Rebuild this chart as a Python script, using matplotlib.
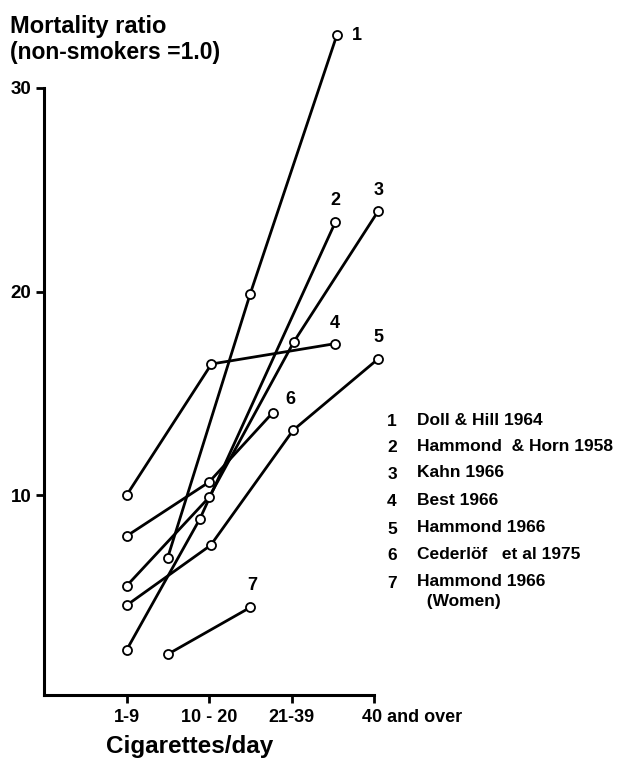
import matplotlib
matplotlib.use("Agg")
import matplotlib.pyplot as plt
import matplotlib.transforms as mtransforms

plt.rcParams['font.family'] = ['Liberation Sans', 'DejaVu Sans']
plt.rcParams['font.weight'] = 'bold'

# cigarette-consumption classes on the x axis
categories = ['1-9', '10 - 20', '21-39', '40 and over']
cat_pos = [1, 2, 3, 4]

# mortality ratio by study (non-smokers = 1.0)
doll_hill_x = [1.5, 2.5, 3.55]
doll_hill_y = [6.95, 19.9, 32.6]
hammond_horn_x = [1.0, 1.89, 3.53]
hammond_horn_y = [2.4, 8.85, 23.4]
kahn_x = [1.0, 2.0, 3.03, 4.05]
kahn_y = [5.55, 9.9, 17.55, 23.95]
best_x = [1.0, 2.03, 3.53]
best_y = [10.0, 16.45, 17.45]
hammond_x = [1.0, 2.02, 3.02, 4.05]
hammond_y = [4.6, 7.55, 13.2, 16.7]
cederlof_x = [1.0, 2.0, 2.77]
cederlof_y = [8.0, 10.65, 14.05]
hammond_w_x = [1.5, 2.5]
hammond_w_y = [2.2, 4.5]

series = [
    ('1', doll_hill_x, doll_hill_y, (20, 0)),
    ('2', hammond_horn_x, hammond_horn_y, (0, 22)),
    ('3', kahn_x, kahn_y, (0, 21)),
    ('4', best_x, best_y, (0, 20)),
    ('5', hammond_x, hammond_y, (0, 21)),
    ('6', cederlof_x, cederlof_y, (18, 13)),
    ('7', hammond_w_x, hammond_w_y, (2, 22)),
]

legend_nums = ['1', '2', '3', '4', '5', '6', '7']
legend_names = ['Doll & Hill 1964', 'Hammond  & Horn 1958', 'Kahn 1966',
                'Best 1966', 'Hammond 1966', 'Cederlöf   et al 1975',
                'Hammond 1966\n  (Women)']

W, H = 622, 758
fig = plt.figure(figsize=(W / 100, H / 100), dpi=100)
ax = fig.add_axes([44 / W, 1 - 695 / H, 330 / W, 607 / H])

for num, xs, ys, off in series:
    ax.plot(xs, ys, color='black', lw=2.0, marker='o', ms=6.5,
            mfc='white', mec='black', mew=1.3, clip_on=False, zorder=3)
    ax.annotate(num, (xs[-1], ys[-1]), xytext=off, textcoords='offset pixels',
                ha='center', va='center', fontsize=13, fontweight='bold',
                annotation_clip=False)

ax.set_xlim(0, 4)
ax.set_ylim(0.2, 30)
ax.spines['top'].set_visible(False)
ax.spines['right'].set_visible(False)
ax.spines['left'].set_linewidth(2.2)
ax.spines['bottom'].set_linewidth(2.2)
ax.set_yticks([10, 20, 30])
ax.set_yticklabels(['10', '20', '30'], fontsize=13.5, fontweight='bold')
ax.set_xticks(cat_pos)
ax.set_xticklabels(categories, fontsize=13, fontweight='bold')
ax.tick_params(axis='both', width=2, length=6, pad=3)
ax.tick_params(axis='x', pad=4)

# "40 and over": keep "40" centred on its tick
last = ax.get_xticklabels()[-1]
last.set_horizontalalignment('left')
last.set_transform(last.get_transform() +
                   mtransforms.ScaledTranslation(-12 / 100, 0, fig.dpi_scale_trans))

fig.text(10 / W, 1 - 33 / H, 'Mortality ratio', fontsize=17,
         fontweight='bold', va='baseline')
fig.text(10 / W, 1 - 59 / H, '(non-smokers =1.0)', fontsize=16.5,
         fontweight='bold', va='baseline')
fig.text(106 / W, 1 - 753 / H, 'Cigarettes/day', fontsize=17.5,
         fontweight='bold', va='baseline')

legend_rows = [422, 448, 474, 502, 529, 556, 583]
for num, name, yy in zip(legend_nums, legend_names, legend_rows):
    fig.text(392 / W, 1 - yy / H, num, fontsize=12.5, fontweight='bold',
             ha='center', va='center')
    fig.text(417 / W, 1 - (yy - 9) / H, name, fontsize=12.5,
             fontweight='bold', ha='left', va='top', linespacing=1.45)

fig.savefig('out.png', dpi=100)
